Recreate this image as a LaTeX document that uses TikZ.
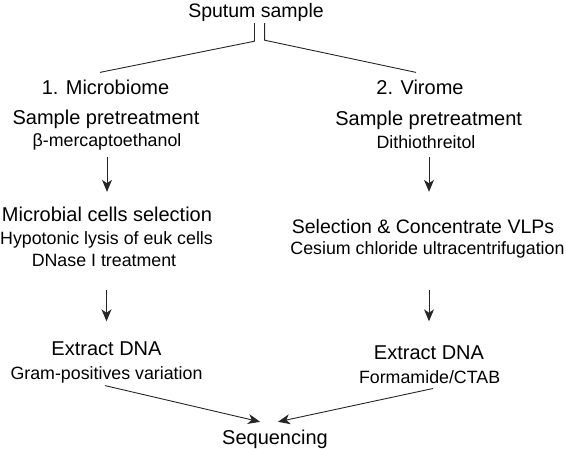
\documentclass[tikz,border=0pt]{standalone}
\usepackage{fontspec}
\setmainfont{Liberation Sans}
\usetikzlibrary{arrows.meta}
\tikzset{
  main/.style={font=\fontsize{20}{24}\selectfont, inner sep=0pt, anchor=base, text height=14.4pt, text depth=4.2pt},
  sub/.style={font=\fontsize{17.8}{21}\selectfont, inner sep=0pt, anchor=base, text height=12.8pt, text depth=3.7pt},
  ln/.style={line width=0.9pt, black!85},
  arr/.style={ln, -{Stealth[length=12pt,width=10pt,inset=3.5pt]}}
}
\begin{document}
\begin{tikzpicture}
\useasboundingbox (0pt,0pt) rectangle (566pt,-449pt);
% top
\node[main, font=\fontsize{19.5}{23}\selectfont, text height=14pt, text depth=4.1pt] (sputum) at (256pt,-17.5pt) {Sputum sample};
\node[main] (mic) at (105.5pt,-94.5pt) {1. Microbiome};
\node[main] (vir) at (420pt,-94.5pt) {2. Virome};
% left column
\node[main] (lsp) at (106pt,-124.5pt) {Sample pretreatment};
\node[sub] (lbm) at (107pt,-146.7pt) {β-mercaptoethanol};
\node[main] (lsel1) at (107pt,-221.7pt) {Microbial cells selection};
\node[sub] (lsel2) at (106.5pt,-245pt) {Hypotonic lysis of euk cells};
\node[sub] (lsel3) at (104pt,-266.7pt) {DNase I treatment};
\node[main] (lex1) at (106.5pt,-355.8pt) {Extract DNA};
\node[sub] (lex2) at (106.5pt,-379.3pt) {Gram-positives variation};
% right column
\node[main] (rsp) at (428.7pt,-125.5pt) {Sample pretreatment};
\node[sub] (rdt) at (426pt,-148.3pt) {Dithiothreitol};
\node[main, font=\fontsize{19.5}{23}\selectfont, text height=14pt] (rsel1) at (423pt,-233.3pt) {Selection \& Concentrate VLPs};
\node[sub] (rsel2) at (427.5pt,-255pt) {Cesium chloride ultracentrifugation};
\node[main] (rex1) at (429pt,-360pt) {Extract DNA};
\node[sub] (rex2) at (429.6pt,-383.6pt) {Formamide/CTAB};
% bottom
\node[main] (seq) at (275pt,-445pt) {Sequencing};
% split lines
\draw[ln] ([shift={(-1.5pt,-1.4pt)}]sputum.south) -- ++(0pt,-18pt) -- ([shift={(-5.5pt,7.5pt)}]mic.north);
\draw[ln] ([shift={(8.6pt,-1.4pt)}]sputum.south) -- ++(0pt,-17pt) -- ([shift={(-4pt,7.5pt)}]vir.north);
% vertical arrows
\draw[arr, shorten <=6.6pt, shorten >=15.3pt] (lbm.south -| lsel1.north) -- (lsel1.north);
\draw[arr, shorten <=19.6pt, shorten >=19.9pt] (lsel3.south -| lex1.north) -- (lex1.north);
\draw[arr, shorten <=5pt, shorten >=27.3pt] (rdt.south -| rex1.north) -- (rsel1.north -| rex1.north);
\draw[arr, shorten <=31.3pt, shorten >=24.1pt] (rsel2.south -| rex1.north) -- (rex1.north);
% converging arrows
\draw[arr] ([shift={(-1.5pt,-2.4pt)}]lex2.south) -- ([shift={(-15pt,8.6pt)}]seq.north);
\draw[arr] ([shift={(3.4pt,-1pt)}]rex2.south) -- ([shift={(3pt,8.6pt)}]seq.north);
\end{tikzpicture}
\end{document}
